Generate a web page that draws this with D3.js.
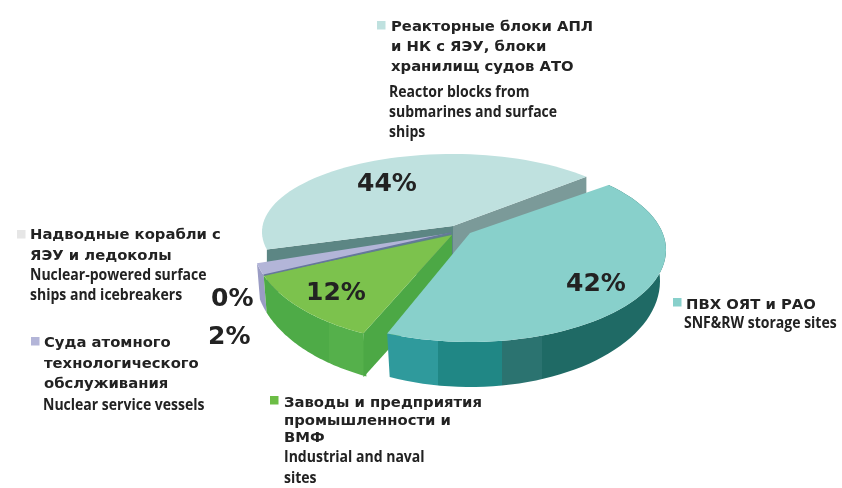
<!DOCTYPE html>
<html>
<head>
<meta charset="utf-8">
<script src="https://cdn.jsdelivr.net/npm/d3@7"></script>
<style>
  html, body { margin: 0; padding: 0; background: #fff; }
  svg { display: block; }
  .ru { font-family: "DejaVu Sans", sans-serif; font-weight: bold; font-size: 14.8px; fill: #222; }
  .en { font-family: "Open Sans", sans-serif; font-weight: bold; font-size: 15.5px; fill: #222; }
  .pct { font-family: "DejaVu Sans", sans-serif; font-weight: bold; font-size: 25px; fill: #222; }
</style>
</head>
<body>
<script>
// data, clockwise from the upper right
const categories = ["storage", "industry", "service", "surface", "reactor"];
const values = [42, 12, 2, 0, 44];
const percentLabels = ["42%", "12%", "2%", "0%", "44%"];
const russianLabels = [
    ["ПВХ ОЯТ и РАО"],
    ["Заводы и предприятия", "промышленности и", "ВМФ"],
    ["Суда атомного", "технологического", "обслуживания"],
    ["Надводные корабли с", "ЯЭУ и ледоколы"],
    ["Реакторные блоки АПЛ", "и НК с ЯЭУ, блоки", "хранилищ судов АТО"]
];
const englishLabels = [
    ["SNF&RW storage sites"],
    ["Industrial and naval", "sites"],
    ["Nuclear service vessels"],
    ["Nuclear-powered surface", "ships and icebreakers"],
    ["Reactor blocks from", "submarines and surface", "ships"]
];

const width = 842;
const height = 488;

// the picture is in perspective: pie angles do not land on equal screen angles
const screenStops = [45, 205, 250, 257, 257, 405];

const shapes = {
    storage: { vertex: [470, 233], top: { cx: 470, cy: 250, rx: 196, ry: 92 }, bottom: { cx: 470, cy: 281, rx: 190, ry: 106 }, fill: "#88d0cb", wall: "url(#tealWall)" },
    industry: { vertex: [452, 235], top: { cx: 445, cy: 240, rx: 193, ry: 103 }, bottom: { cx: 448, cy: 274, rx: 193, ry: 113 }, fill: "#7cc24d", wall: "url(#greenWall)", face: "#4ca845" },
    service: { vertex: [451, 233], top: { cx: 445, cy: 240, rx: 193, ry: 103 }, bottom: { cx: 448, cy: 274, rx: 193, ry: 113 }, fill: "#b3b5d8", wall: "#9a9cc4" },
    reactor: { vertex: [453, 226], top: { cx: 452, cy: 232, rx: 190, ry: 78 }, fill: "#bfe1df", leftFace: "#5c8684", rightFace: "#7b9a99" }
};

const legendLayout = {
    storage: { square: [673, 298], ru: [686, 309], en: [684, 328], ruStep: 20, enStep: 20, pct: [566, 291] },
    industry: { square: [270, 396], ru: [284, 407], en: [284, 462], ruStep: 17.5, enStep: 21, pct: [306, 300] },
    service: { square: [31, 337], ru: [44, 347], en: [43, 410], ruStep: 20.5, enStep: 20, pct: [208, 344] },
    surface: { square: [17, 230], ru: [30, 239], en: [30, 280], ruStep: 21, enStep: 20, pct: [211, 306] },
    reactor: { square: [377, 21], ru: [391, 31], en: [389, 97], ruStep: 20, enStep: 20, pct: [357, 191] }
};

const squareColors = { storage: "#88d0cb", industry: "#6cbd45", service: "#b3b5d8", surface: "#e6e6e6", reactor: "#bfe1df" };

const toDegrees = d3.scaleLinear().domain([0, 2 * Math.PI]).range([0, 360]);
const pieStops = [0, ...d3.cumsum(values)].map(d => d / d3.sum(values) * 360);
const warp = d3.scaleLinear().domain(pieStops).range(screenStops);

const arcs = d3.pie().sort(null).value(d => d)(values);

function pointOn(ellipse, angle) {
    const rad = angle * Math.PI / 180;
    return [ellipse.cx + ellipse.rx * Math.sin(rad), ellipse.cy - ellipse.ry * Math.cos(rad)];
}

function arcPoints(ellipse, from, to) {
    return d3.range(0, 61).map(i => pointOn(ellipse, from + (to - from) * i / 60));
}

const line = d3.line();
const closed = pts => line(pts) + "Z";

const svg = d3.select("body").append("svg")
    .attr("width", width)
    .attr("height", height)
    .style("filter", "blur(0.35px)");

const defs = svg.append("defs");

function bandGradient(id, stops) {
    const grad = defs.append("linearGradient")
        .attr("id", id)
        .attr("gradientUnits", "userSpaceOnUse")
        .attr("x1", stops[0].x).attr("x2", stops[stops.length - 1].x)
        .attr("y1", 0).attr("y2", 0);
    const span = stops[stops.length - 1].x - stops[0].x;
    stops.slice(0, -1).forEach((s, i) => {
        grad.append("stop").attr("offset", (s.x - stops[0].x) / span).attr("stop-color", s.color);
        grad.append("stop").attr("offset", (stops[i + 1].x - stops[0].x) / span).attr("stop-color", s.color);
    });
}

bandGradient("tealWall", [
    { x: 388, color: "#2f9a9c" }, { x: 438, color: "#208785" }, { x: 502, color: "#2b7370" },
    { x: 542, color: "#1f6a65" }, { x: 670 }
]);
bandGradient("greenWall", [
    { x: 260, color: "#4eab47" }, { x: 329, color: "#55b04b" }, { x: 400 }
]);

const sliceAngles = {};
arcs.forEach((a, i) => {
    sliceAngles[categories[i]] = [warp(toDegrees(a.startAngle)), warp(toDegrees(a.endAngle))];
});

function drawWall(key) {
    const s = shapes[key];
    const [from, to] = sliceAngles[key];
    svg.append("path")
        .attr("d", closed([...arcPoints(s.top, from, to), ...arcPoints(s.bottom, to, from)]))
        .attr("fill", s.wall);
}

function drawTop(key) {
    const s = shapes[key];
    const [from, to] = sliceAngles[key];
    svg.append("path")
        .attr("d", closed([s.vertex, ...arcPoints(s.top, from, to)]))
        .attr("fill", s.fill);
}

function drawCutFace(vertex, edge, depth, color) {
    svg.append("path")
        .attr("d", closed([vertex, edge, [edge[0], edge[1] + depth], [vertex[0], vertex[1] + depth]]))
        .attr("fill", color);
}

// back to front
const reactor = shapes.reactor;
drawCutFace(reactor.vertex, pointOn(reactor.top, sliceAngles.reactor[1]), 44, reactor.rightFace);
drawCutFace(reactor.vertex, pointOn(reactor.top, sliceAngles.reactor[0]), 44, reactor.leftFace);
drawTop("reactor");

drawWall("service");
drawTop("service");

drawWall("industry");
drawCutFace(shapes.industry.vertex, pointOn(shapes.industry.top, sliceAngles.industry[0]), 44, shapes.industry.face);
drawTop("industry");

svg.append("path")
    .attr("d", line([shapes.service.vertex, pointOn(shapes.service.top, sliceAngles.service[0])]))
    .attr("stroke", "#66779c")
    .attr("stroke-width", 1.6)
    .attr("fill", "none");

drawWall("storage");
drawTop("storage");

// percent labels and legend text
categories.forEach((key, i) => {
    const pos = legendLayout[key];

    svg.append("text")
        .attr("class", "pct")
        .attr("x", pos.pct[0])
        .attr("y", pos.pct[1])
        .text(percentLabels[i]);

    svg.append("rect")
        .attr("x", pos.square[0])
        .attr("y", pos.square[1])
        .attr("width", 8.5)
        .attr("height", 8.5)
        .attr("fill", squareColors[key]);

    russianLabels[i].forEach((txt, n) => {
        svg.append("text")
            .attr("class", "ru")
            .attr("x", pos.ru[0])
            .attr("y", pos.ru[1] + n * pos.ruStep)
            .text(txt);
    });

    // the English lines are a condensed face in the original
    englishLabels[i].forEach((txt, n) => {
        svg.append("text")
            .attr("class", "en")
            .attr("transform", `translate(${pos.en[0]},${pos.en[1] + n * pos.enStep}) scale(0.905,1)`)
            .text(txt);
    });
});
</script>
</body>
</html>
